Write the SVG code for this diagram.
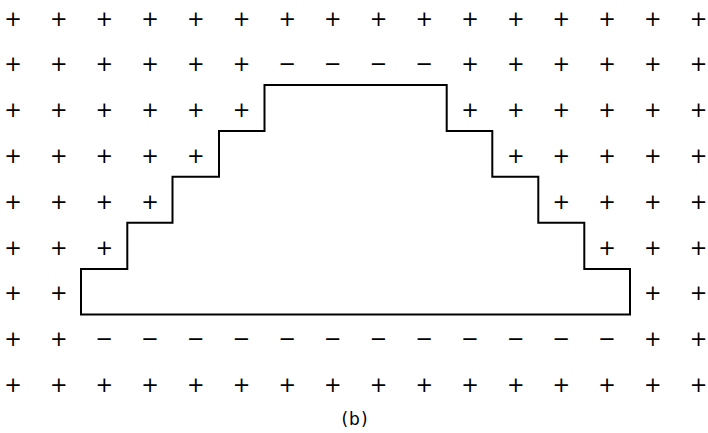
<svg xmlns="http://www.w3.org/2000/svg" width="708" height="433" viewBox="0 0 708 433">
<style>
.s{font-family:"DejaVu Sans",sans-serif;font-size:21px;text-anchor:middle;fill:#000}
.o{fill:none;stroke:#000;stroke-width:2;stroke-linejoin:miter}
.l{font-family:"DejaVu Sans",sans-serif;font-size:17px;text-anchor:middle;fill:#000}
</style>
<rect width="708" height="433" fill="#fff"/>
<g id="charges">
<g id="row0">
<text class="s" x="13" y="25.5">+</text><text class="s" x="58.7" y="25.5">+</text><text class="s" x="104.4" y="25.5">+</text><text class="s" x="150.1" y="25.5">+</text><text class="s" x="195.8" y="25.5">+</text><text class="s" x="241.5" y="25.5">+</text><text class="s" x="287.2" y="25.5">+</text><text class="s" x="332.9" y="25.5">+</text><text class="s" x="378.6" y="25.5">+</text><text class="s" x="424.3" y="25.5">+</text><text class="s" x="470" y="25.5">+</text><text class="s" x="515.7" y="25.5">+</text><text class="s" x="561.4" y="25.5">+</text><text class="s" x="607.1" y="25.5">+</text><text class="s" x="652.8" y="25.5">+</text><text class="s" x="698.5" y="25.5">+</text>
</g>
<g id="row1">
<text class="s" x="13" y="71.3">+</text><text class="s" x="58.7" y="71.3">+</text><text class="s" x="104.4" y="71.3">+</text><text class="s" x="150.1" y="71.3">+</text><text class="s" x="195.8" y="71.3">+</text><text class="s" x="241.5" y="71.3">+</text><text class="s" x="287.2" y="71.3">−</text><text class="s" x="332.9" y="71.3">−</text><text class="s" x="378.6" y="71.3">−</text><text class="s" x="424.3" y="71.3">−</text><text class="s" x="470" y="71.3">+</text><text class="s" x="515.7" y="71.3">+</text><text class="s" x="561.4" y="71.3">+</text><text class="s" x="607.1" y="71.3">+</text><text class="s" x="652.8" y="71.3">+</text><text class="s" x="698.5" y="71.3">+</text>
</g>
<g id="row2">
<text class="s" x="13" y="117.1">+</text><text class="s" x="58.7" y="117.1">+</text><text class="s" x="104.4" y="117.1">+</text><text class="s" x="150.1" y="117.1">+</text><text class="s" x="195.8" y="117.1">+</text><text class="s" x="241.5" y="117.1">+</text><text class="s" x="470" y="117.1">+</text><text class="s" x="515.7" y="117.1">+</text><text class="s" x="561.4" y="117.1">+</text><text class="s" x="607.1" y="117.1">+</text><text class="s" x="652.8" y="117.1">+</text><text class="s" x="698.5" y="117.1">+</text>
</g>
<g id="row3">
<text class="s" x="13" y="162.9">+</text><text class="s" x="58.7" y="162.9">+</text><text class="s" x="104.4" y="162.9">+</text><text class="s" x="150.1" y="162.9">+</text><text class="s" x="195.8" y="162.9">+</text><text class="s" x="515.7" y="162.9">+</text><text class="s" x="561.4" y="162.9">+</text><text class="s" x="607.1" y="162.9">+</text><text class="s" x="652.8" y="162.9">+</text><text class="s" x="698.5" y="162.9">+</text>
</g>
<g id="row4">
<text class="s" x="13" y="208.7">+</text><text class="s" x="58.7" y="208.7">+</text><text class="s" x="104.4" y="208.7">+</text><text class="s" x="150.1" y="208.7">+</text><text class="s" x="561.4" y="208.7">+</text><text class="s" x="607.1" y="208.7">+</text><text class="s" x="652.8" y="208.7">+</text><text class="s" x="698.5" y="208.7">+</text>
</g>
<g id="row5">
<text class="s" x="13" y="254.5">+</text><text class="s" x="58.7" y="254.5">+</text><text class="s" x="104.4" y="254.5">+</text><text class="s" x="607.1" y="254.5">+</text><text class="s" x="652.8" y="254.5">+</text><text class="s" x="698.5" y="254.5">+</text>
</g>
<g id="row6">
<text class="s" x="13" y="300.3">+</text><text class="s" x="58.7" y="300.3">+</text><text class="s" x="652.8" y="300.3">+</text><text class="s" x="698.5" y="300.3">+</text>
</g>
<g id="row7">
<text class="s" x="13" y="346.1">+</text><text class="s" x="58.7" y="346.1">+</text><text class="s" x="104.4" y="346.1">−</text><text class="s" x="150.1" y="346.1">−</text><text class="s" x="195.8" y="346.1">−</text><text class="s" x="241.5" y="346.1">−</text><text class="s" x="287.2" y="346.1">−</text><text class="s" x="332.9" y="346.1">−</text><text class="s" x="378.6" y="346.1">−</text><text class="s" x="424.3" y="346.1">−</text><text class="s" x="470" y="346.1">−</text><text class="s" x="515.7" y="346.1">−</text><text class="s" x="561.4" y="346.1">−</text><text class="s" x="607.1" y="346.1">−</text><text class="s" x="652.8" y="346.1">+</text><text class="s" x="698.5" y="346.1">+</text>
</g>
<g id="row8">
<text class="s" x="13" y="391.9">+</text><text class="s" x="58.7" y="391.9">+</text><text class="s" x="104.4" y="391.9">+</text><text class="s" x="150.1" y="391.9">+</text><text class="s" x="195.8" y="391.9">+</text><text class="s" x="241.5" y="391.9">+</text><text class="s" x="287.2" y="391.9">+</text><text class="s" x="332.9" y="391.9">+</text><text class="s" x="378.6" y="391.9">+</text><text class="s" x="424.3" y="391.9">+</text><text class="s" x="470" y="391.9">+</text><text class="s" x="515.7" y="391.9">+</text><text class="s" x="561.4" y="391.9">+</text><text class="s" x="607.1" y="391.9">+</text><text class="s" x="652.8" y="391.9">+</text><text class="s" x="698.5" y="391.9">+</text>
</g>
</g>
<g id="outline">
<path class="o" d="M81,314.5 V269 H127.3 V222.7 H172.5 V176.7 H219 V131 H264.5 V85 H446.7 V131 H492.3 V176.7 H538.3 V222.7 H584.3 V269 H630 V314.5 Z"/>
</g>
<g id="caption">
<text class="l" x="355" y="425" letter-spacing="1">(b)</text>
</g>
</svg>
